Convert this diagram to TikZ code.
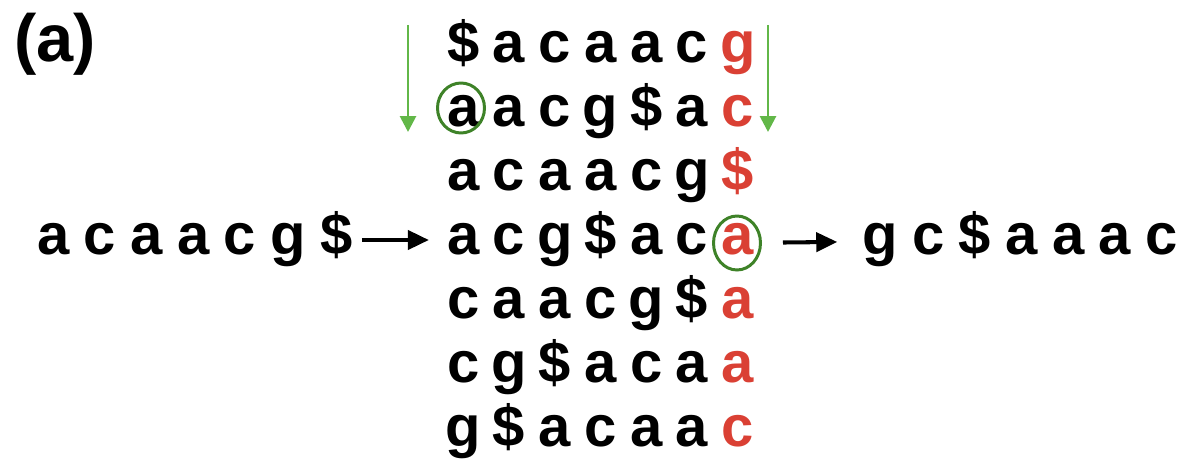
\documentclass[tikz,border=0pt]{standalone}
\usepackage{fontspec}
\setmainfont{Liberation Sans}
\usetikzlibrary{matrix,arrows.meta,shapes.geometric}
\definecolor{bwtred}{RGB}{218,64,52}
\definecolor{arrgreen}{RGB}{98,183,72}
\definecolor{ringgreen}{RGB}{62,130,40}
\tikzset{
  letters/.style={font=\fontsize{33}{40}\selectfont\bfseries,
    inner sep=0pt, text height=25pt, text depth=8pt},
  strip/.style={letters, execute at begin node={\spaceskip=0.25em\relax}},
  lastcol/.style={text=bwtred},
  ring/.style={draw=ringgreen, line width=1.7pt, ellipse, inner sep=0pt},
  blkarrow/.style={line width=2.3pt, -{Triangle[length=0.42cm,width=0.38cm]}},
  grnarrow/.style={arrgreen, line width=1.6pt, -{Triangle[length=0.32cm,width=0.32cm]}}
}

\begin{document}
\begin{tikzpicture}[x=0.02cm,y=0.02cm]
\useasboundingbox (0,0) rectangle (1182,464);
% panel tag
\node[font=\fontsize{38}{44}\selectfont\bfseries, inner sep=0pt] (tag) at (55,420) {(a)};
% sorted rotations
\matrix (m) [matrix of nodes, column sep=0pt, row sep=0pt,
  nodes={letters, minimum width=0.916cm, minimum height=1.28cm}] at (600.5,224) {
\$ & a & c & a & a & c & |[lastcol]| g \\
a & a & c & g & \$ & a & |[lastcol]| c \\
a & c & a & a & c & g & |[lastcol]| \$ \\
a & c & g & \$ & a & c & |[lastcol]| a \\
c & a & a & c & g & \$ & |[lastcol]| a \\
c & g & \$ & a & c & a & |[lastcol]| a \\
g & \$ & a & c & a & a & |[lastcol]| c \\
};
% input and output strings
\node[strip] (src) at (195,224) {a c a a c g \$};
\node[strip] (out) at (1020,224) {g c \$ a a a c};
% marked letters
\node[ring, minimum width=0.94cm, minimum height=1.0cm] (ringA) at (461,356) {};
\node[ring, minimum width=0.94cm, minimum height=1.08cm] (ringB) at (737,221) {};
% arrows
\draw[blkarrow, shorten <=0.17cm, shorten >=0.22cm] (src) -- (m-4-1);
\draw[blkarrow, shorten <=0.42cm, shorten >=0.49cm] (ringB) -- (out);
\coordinate (ltop) at (408,439);
\coordinate (lbot) at (408,332);
\coordinate (rtop) at (768,439);
\coordinate (rbot) at (768,332);
\draw[grnarrow] (ltop) -- (lbot);
\draw[grnarrow] (rtop) -- (rbot);
\end{tikzpicture}
\end{document}
